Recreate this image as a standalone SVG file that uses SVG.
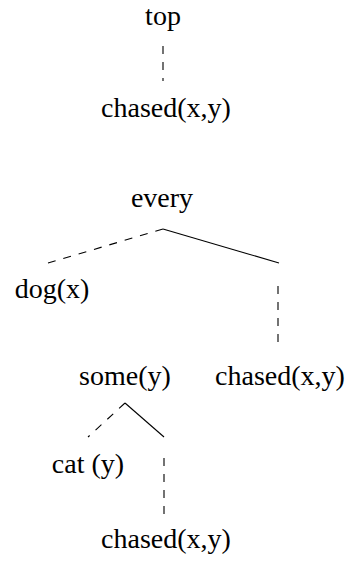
<svg xmlns="http://www.w3.org/2000/svg" width="347" height="563" viewBox="0 0 347 563">
<style>
text{font-family:"Liberation Serif","Times New Roman",serif;font-size:28px;fill:#000;text-anchor:middle}
.e{stroke:#000;stroke-width:1.1;fill:none}
.d{stroke-dasharray:8 8}
</style>
<rect width="347" height="563" fill="#fff"/>
<g id="connectors">
<line class="e d" x1="163" y1="46" x2="163" y2="81"/>
<line class="e d" x1="163" y1="229" x2="48" y2="263"/>
<line class="e" x1="163" y1="229" x2="279" y2="263"/>
<line class="e d" x1="278" y1="286" x2="278" y2="342"/>
<line class="e d" x1="125" y1="403" x2="88" y2="437"/>
<line class="e" x1="125" y1="403" x2="164" y2="437"/>
<line class="e d" x1="164" y1="458" x2="164" y2="515"/>
</g>
<g id="n-top"><text x="163" y="25">top</text></g>
<g id="n-chased1"><text x="166" y="117">chased(x,y)</text></g>
<g id="n-every"><text x="162" y="207">every</text></g>
<g id="n-dog"><text x="52" y="298">dog(x)</text></g>
<g id="n-some"><text x="125" y="385">some(y)</text></g>
<g id="n-chased2"><text x="280" y="385">chased(x,y)</text></g>
<g id="n-cat"><text x="88" y="473">cat (y)</text></g>
<g id="n-chased3"><text x="166" y="548">chased(x,y)</text></g>
</svg>
